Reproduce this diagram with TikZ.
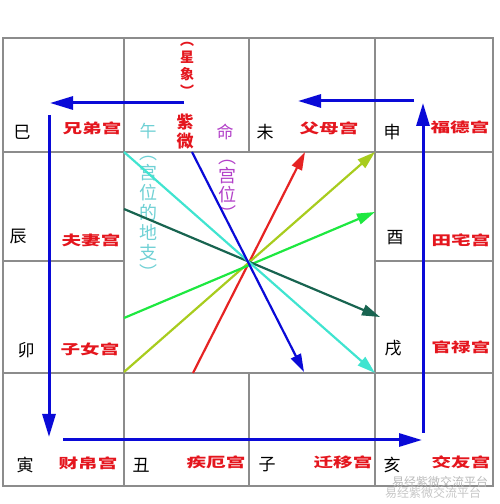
\documentclass[tikz,border=0pt]{standalone}
\usepackage{fontspec}
\newfontfamily\cjk{Noto Sans CJK SC}
\usetikzlibrary{arrows.meta}

\definecolor{palred}{RGB}{228,22,30}
\definecolor{zhicyan}{RGB}{110,208,212}
\definecolor{gongpurple}{RGB}{178,64,200}
\definecolor{lnred}{RGB}{230,35,35}
\definecolor{lnolive}{RGB}{168,204,30}
\definecolor{lngreen}{RGB}{30,232,64}
\definecolor{lnteal}{RGB}{24,100,80}
\definecolor{lnturq}{RGB}{64,228,208}
\definecolor{lnblue}{RGB}{10,10,215}
\definecolor{gridgray}{RGB}{140,140,140}

\tikzset{
 gridline/.style={draw=gridgray,line width=1.3pt},
 zhi/.style={font=\cjk\fontsize{17}{17}\selectfont,text=black,inner sep=0pt},
 gong/.style={font=\cjk\bfseries\fontsize{13.5}{13.5}\selectfont,text=palred,inner sep=0pt},
 stack/.style n args={2}{font=\cjk\bfseries\fontsize{#1}{#2}\selectfont,align=center,inner sep=0pt},
 thinstack/.style n args={2}{font=\cjk\fontsize{#1}{#2}\selectfont,align=center,inner sep=0pt},
 ray/.style={line width=2.2pt,-{Triangle[length=18pt,width=11pt]}},
 flow/.style={draw=lnblue,line width=3pt,-{Triangle[length=23pt,width=13pt]}},
}
\newcommand{\wide}[1]{\scalebox{1.45}[1]{#1}}

\begin{document}
\begin{tikzpicture}[x=1pt,y=1pt]
\useasboundingbox (0,0) rectangle (500,504);

% grid
\draw[gridline] (3,18) rectangle (493,466);
\draw[gridline] (3,352) -- (493,352);
\draw[gridline] (3,131) -- (493,131);
\draw[gridline] (3,243) -- (124,243) (375,243) -- (493,243);
\draw[gridline] (124,18) -- (124,466) (375,18) -- (375,466);
\draw[gridline] (249,352) -- (249,466) (249,18) -- (249,131);

% earthly branches
\foreach \n/\x/\y/\t in {si/22/372/巳, wei/265/372/未, shen/392/372/申,
  chen/18/267/辰, you/395/266/酉, mao/26/154/卯, xu/393/156/戌,
  yin/25/39/寅, chou/141/39/丑, zi/267/39/子, hai/392/39/亥}
 \node[zhi] (\n) at (\x,\y) {\t};

% palaces
\foreach \n/\x/\y/\t in {xiongdi/92/376/兄弟宫, fumu/329/376/父母宫, fude/460/377/福德宫,
  fuqi/91/264/夫妻宫, tianzhai/461/264/田宅宫, zinv/90/155/子女宫, guanlu/461/157/官禄宫,
  caibo/88/41/财帛宫, jie/216/42/疾厄宫, qianyi/343/42/迁移宫, jiaoyou/461/42/交友宫}
 \node[gong] (\n) at (\x,\y) {\wide{\t}};

% top middle cell
\node[stack={14}{17},text=palred] (xingxiang) at (187,435) {︵\\星\\象\\︶};
\node[stack={17}{19},text=palred] (ziwei) at (185,372) {紫\\微};
\node[zhi,text=zhicyan] (wu) at (148,373) {午};
\node[zhi,text=gongpurple] (ming) at (225,372) {命};
\node[thinstack={18}{20},text=zhicyan] (dizhi) at (148,286) {︵\\宫\\位\\的\\地\\支\\︶};
\node[thinstack={18}{19},text=gongpurple] (gongwei) at (227,314) {︵\\宫\\位\\︶};

% colored rays
\coordinate (r0) at (193,131); \coordinate (r1) at (305,352);
\coordinate (o0) at (124,132); \coordinate (o1) at (375,352);
\coordinate (g0) at (124,186); \coordinate (g1) at (375,292);
\coordinate (t0) at (124,295); \coordinate (t1) at (380,187);
\coordinate (q0) at (124,352); \coordinate (q1) at (375,131);
\coordinate (b0) at (192,352); \coordinate (b1) at (304,132);
\draw[ray,lnred] (r0) -- (r1);
\draw[ray,lnolive] (o0) -- (o1);
\draw[ray,lngreen] (g0) -- (g1);
\draw[ray,lnteal] (t0) -- (t1);
\draw[ray,lnturq] (q0) -- (q1);
\draw[ray,lnblue] (b0) -- (b1);

% outer flow
\coordinate (f1) at (414,403); \coordinate (f2) at (298,403);
\coordinate (f3) at (184,401); \coordinate (f4) at (50,401);
\coordinate (f5) at (49,389); \coordinate (f6) at (49,67);
\coordinate (f7) at (63,64); \coordinate (f8) at (422,64);
\coordinate (f9) at (423,71); \coordinate (f10) at (423,401);
\draw[flow] (f1) -- (f2);
\draw[flow] (f3) -- (f4);
\draw[flow] (f5) -- (f6);
\draw[flow] (f7) -- (f8);
\draw[flow] (f9) -- (f10);

% watermark
\node[font=\cjk\fontsize{12}{12}\selectfont,text=gray!55,inner sep=0pt] (wm1) at (440,22) {易经紫微交流平台};
\node[font=\cjk\fontsize{12}{12}\selectfont,text=gray!45,inner sep=0pt] (wm2) at (433,11) {易经紫微交流平台};

\end{tikzpicture}
\end{document}
